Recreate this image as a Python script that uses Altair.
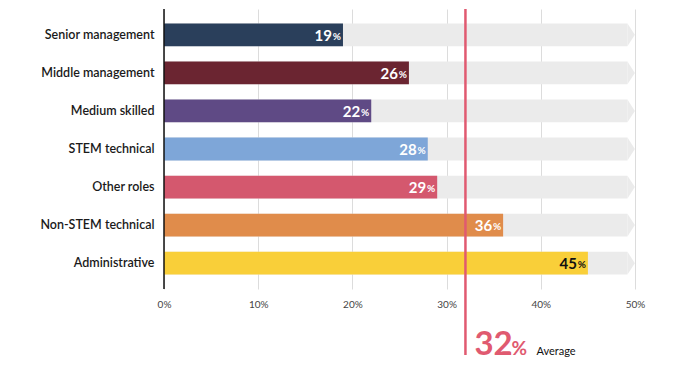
import altair as alt
import pandas as pd

categories = ["Senior management", "Middle management", "Medium skilled", "STEM technical",
              "Other roles", "Non-STEM technical", "Administrative"]
values = [19, 26, 22, 28, 29, 36, 45]
colors = ["#2a3f5b", "#6b2531", "#5f4a85", "#7ea6d8", "#d4586e", "#e08c4b", "#f9cf39"]
average = [32]
x_ticks = [0, 10, 20, 30, 40, 50]

df = pd.DataFrame({"role": categories, "value": values})
avg_df = pd.DataFrame({"avg": average})

FONT = "Lato"
y_enc = alt.Y("role:N", sort=categories, title=None,
              scale=alt.Scale(paddingInner=0.4, paddingOuter=0.38),
              axis=alt.Axis(domain=False, ticks=False, labelPadding=10, labelFontSize=12.5,
                            labelFontWeight=600, labelColor="#1a1a1a", labelFont=FONT,
                            labelLimit=200))
x_scale = alt.Scale(domain=[0, 50], nice=False)

track = alt.Chart(df).transform_calculate(track="49.2").mark_bar(color="#ebebeb").encode(
    x=alt.X("track:Q", scale=x_scale,
            axis=alt.Axis(values=x_ticks, format="d", labelExpr="datum.value + '%'",
                          title=None, grid=True, gridColor="#dcdcdc", gridWidth=1,
                          domain=False, ticks=False, labelPadding=10, labelFontSize=10,
                          labelColor="#444", labelFont=FONT, labelFlush=False)),
    y=y_enc,
)
tip = alt.Chart(df).transform_calculate(track="49.2").mark_point(
    shape="M 0 -1 L 0.65 0 L 0 1 Z", size=520, filled=True, opacity=1,
    color="#ebebeb", strokeWidth=0).encode(
    x=alt.X("track:Q", scale=x_scale), y=alt.Y("role:N", sort=categories))

bars = alt.Chart(df).mark_bar().encode(
    x=alt.X("value:Q", scale=x_scale),
    y=alt.Y("role:N", sort=categories),
    color=alt.Color("role:N", scale=alt.Scale(domain=categories, range=colors), legend=None),
)

txt_color = alt.condition(alt.datum.role == "Administrative", alt.value("#111"), alt.value("white"))
num = alt.Chart(df).mark_text(align="right", baseline="middle", dx=-11, dy=1, fontSize=15,
                              fontWeight="bold", font=FONT).encode(
    x=alt.X("value:Q", scale=x_scale), y=alt.Y("role:N", sort=categories),
    text=alt.Text("value:Q"), color=txt_color)
pct = alt.Chart(df).mark_text(align="right", baseline="middle", dx=-2, dy=2, fontSize=10,
                              fontWeight="bold", font=FONT).encode(
    x=alt.X("value:Q", scale=x_scale), y=alt.Y("role:N", sort=categories),
    text=alt.value("%"), color=txt_color)

axis_line = alt.Chart(avg_df).mark_rule(color="#111", strokeWidth=1.5).encode(
    x=alt.value(0), y=alt.value(0), y2=alt.value(280))

avg_rule = alt.Chart(avg_df).mark_rule(color="#e05a70", strokeWidth=2.5, clip=False).encode(
    x=alt.X("avg:Q", scale=x_scale), y=alt.value(0), y2=alt.value(346))
avg_num = alt.Chart(avg_df).mark_text(align="left", baseline="alphabetic", dx=9, fontSize=33,
                                      fontWeight="bold", color="#e05a70", font=FONT).encode(
    x=alt.X("avg:Q", scale=x_scale), y=alt.value(346), text=alt.Text("avg:Q"))
avg_pct = alt.Chart(avg_df).mark_text(align="left", baseline="alphabetic", dx=46, fontSize=19,
                                      fontWeight="bold", color="#e05a70", font=FONT).encode(
    x=alt.X("avg:Q", scale=x_scale), y=alt.value(346), text=alt.value("%"))
avg_lbl = alt.Chart(avg_df).mark_text(align="left", baseline="alphabetic", dx=71, fontSize=11,
                                      color="#111", font=FONT).encode(
    x=alt.X("avg:Q", scale=x_scale), y=alt.value(346), text=alt.value("Average"))

chart = alt.layer(track, tip, bars, num, pct, axis_line, avg_rule, avg_num, avg_pct, avg_lbl).properties(
    width=471, height=280,
    autosize=alt.AutoSizeParams(type="none"),
    padding={"left": 156, "top": 1, "right": 20, "bottom": 82},
    background="white",
).configure_view(stroke=None)

chart.save("out.html", embed_options={"renderer": "svg", "actions": False})
